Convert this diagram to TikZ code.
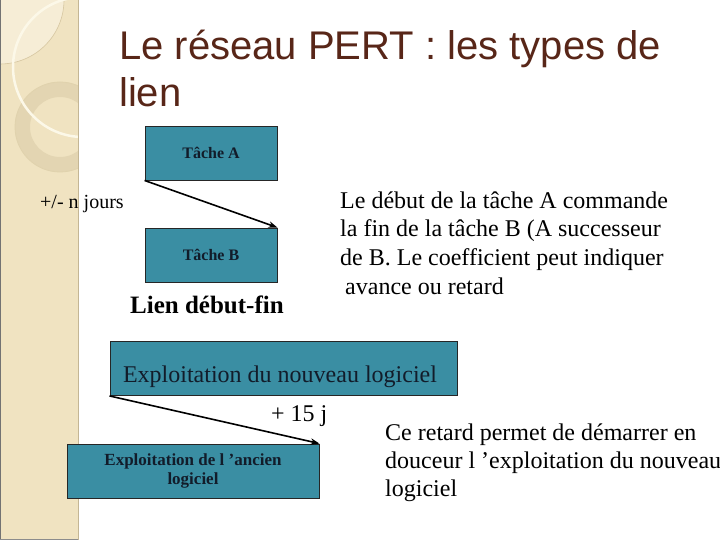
\documentclass[tikz,border=0pt]{standalone}
\usepackage{fontspec}
\setmainfont{Liberation Serif}
\newfontfamily\titlefont{Liberation Sans}
\usetikzlibrary{arrows.meta}
\definecolor{beige}{RGB}{240,227,193}
\definecolor{beigelight}{RGB}{246,237,214}
\definecolor{beigeline}{RGB}{214,198,160}
\definecolor{ringcol}{RGB}{227,213,178}
\definecolor{arccol}{RGB}{252,248,232}
\definecolor{stripedge}{RGB}{196,182,148}
\definecolor{boxteal}{RGB}{58,142,163}
\definecolor{boxtext}{RGB}{18,28,42}
\definecolor{titlebrown}{RGB}{88,38,24}
\tikzset{
  taskbox/.style={draw=black!85, line width=0.9pt, fill=boxteal, inner sep=0pt, text=boxtext},
  arr/.style={draw=black, line width=1.6pt, -{Stealth[length=9pt,width=6.5pt]}},
  titletext/.style={anchor=base west, inner sep=0pt, text=titlebrown, font=\titlefont\fontsize{40}{48}\selectfont},
  bodytext/.style={anchor=base west, inner sep=0pt, text=black, font=\fontsize{24}{28.8}\selectfont},
}
\begin{document}
\begin{tikzpicture}[x=1pt,y=-1pt]
\useasboundingbox (0,0) rectangle (720,540);
\fill[white] (0,0) rectangle (720,540);
% decorative strip
\begin{scope}
  \clip (0,0) rectangle (78,540);
  \fill[beige] (0,0) rectangle (78,540);
  \fill[beigelight] (0,0) circle (64);
  \draw[beigeline, line width=0.6pt] (0,0) circle (64);
  \fill[ringcol, even odd rule] (60,127) circle (45) (60,127) circle (30);
  \draw[beigeline!60!beige, line width=0.8pt] (60,127) circle (45);
  \draw[arccol, line width=2.5pt] (83,67) circle (70);
\end{scope}
\draw[stripedge, line width=1.5pt] (78.5,0) -- (78.5,540);
\draw[black!55, line width=0.8pt] (0.4,0) -- (0.4,540);
\draw[black!45, line width=0.8pt] (0,539.6) -- (78,539.6);
% title
\node[titletext] (t1) at (119,60) {Le réseau PERT : les types de};
\node[titletext] (t2) at (119,107) {lien};
% boxes
\node[taskbox, minimum width=132pt, minimum height=54pt, font=\bfseries\fontsize{16}{19}\selectfont] (A) at (211,153) {Tâche A};
\node[taskbox, minimum width=132pt, minimum height=54pt, font=\bfseries\fontsize{16}{19}\selectfont] (B) at (211,255) {Tâche B};
\node[taskbox, minimum width=347pt, minimum height=54pt] (N) at (283.5,368.5) {};
\node[taskbox, minimum width=252pt, minimum height=54pt, align=center, font=\bfseries\fontsize{17}{19}\selectfont] (O) at (193,471) {Exploitation de l ’ancien\\logiciel};
\node[bodytext, text=boxtext, anchor=base] (Nt) at (280,382) {Exploitation du nouveau logiciel};
% arrows
\draw[arr] (A.south west) -- (B.north east);
\draw[arr] (N.south west) -- (O.north east);
% labels
\node[bodytext, font=\fontsize{20}{24}\selectfont] (jours) at (40,208) {+/- n jours};
\node[bodytext, font=\bfseries\fontsize{25}{30}\selectfont] (lien) at (130,313) {Lien début-fin};
\node[bodytext] (plus) at (271,421) {+ 15 j};
% right text
\node[bodytext] (r1) at (340,208) {Le début de la tâche A commande};
\node[bodytext] (r2) at (340,236.7) {la fin de la tâche B (A successeur};
\node[bodytext] (r3) at (340,265.4) {de B. Le coefficient peut indiquer};
\node[bodytext] (r4) at (345,294) {avance ou retard};
\node[bodytext] (s1) at (385,440) {Ce retard permet de démarrer en};
\node[bodytext] (s2) at (385,468) {douceur l ’exploitation du nouveau};
\node[bodytext] (s3) at (385,496) {logiciel};
\end{tikzpicture}
\end{document}
